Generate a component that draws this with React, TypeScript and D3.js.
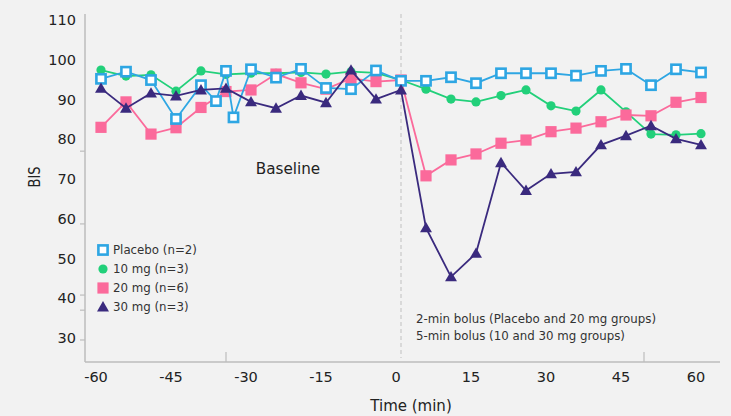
import React from "react";
import * as d3 from "d3";

// Sampling times (min) relative to the start of the bolus
const baselineTimes = [-60, -55, -50, -45, -40, -35, -30, -25, -20, -15, -10, -5, 0];
const postTimes = [5, 10, 15, 20, 25, 30, 35, 40, 45, 50, 55, 60];
const allTimes = [...baselineTimes, ...postTimes];
const placeboTimes = [
  -60, -55, -50, -45, -40, -37, -35, -33.5, -30, -25, -20, -15, -10, -5, 0,
  ...postTimes,
];

// Mean BIS per group
const placeboBIS = [
  95.2, 97.0, 94.9, 85.1, 93.6, 89.6, 97.2, 85.5, 97.6, 95.5, 97.7, 92.9, 92.6, 97.3, 94.7,
  94.7, 95.6, 94.1, 96.6, 96.6, 96.6, 96.0, 97.2, 97.7, 93.6, 97.6, 96.8,
];
const mg10BIS = [
  97.4, 95.9, 96.2, 92.1, 97.2, 96.3, 96.6, 96.6, 96.8, 96.4, 97.0, 96.7, 94.9,
  92.6, 90.1, 89.4, 91.0, 92.4, 88.4, 87.1, 92.4, 86.9, 81.3, 81.1, 81.4,
];
const mg20BIS = [
  83.0, 89.4, 81.3, 82.9, 88.0, 92.0, 92.4, 96.4, 94.2, 92.6, 95.3, 94.5, 94.9,
  70.8, 74.8, 76.3, 79.0, 79.8, 81.9, 82.8, 84.4, 86.1, 85.9, 89.3, 90.5,
];
const mg30BIS = [
  92.8, 87.8, 91.6, 90.9, 92.4, 92.8, 89.4, 87.8, 91.0, 89.2, 97.4, 90.1, 92.4,
  57.7, 45.4, 51.3, 74.1, 67.1, 71.3, 71.8, 78.6, 80.9, 83.4, 80.1, 78.6,
];

const seriesNames = ["Placebo (n=2)", "10 mg (n=3)", "20 mg (n=6)", "30 mg (n=3)"];
const xTicks = [-60, -45, -30, -15, 0, 15, 30, 45, 60];
const yTicks = [30, 40, 50, 60, 70, 80, 90, 100, 110];
const yMinorTicks = [77, 58.7, 40.8, 37, 29.5];
const xMinorTicks = [-35, 48.6];
const annotationLines = [
  "2-min bolus (Placebo and 20 mg groups)",
  "5-min bolus (10 and 30 mg groups)",
];

const W = 731;
const H = 416;
const FONT = "'DejaVu Sans', sans-serif";
const BG = "#f2f2f2";
const AXIS = "#bdbdbd";
const TEXT = "#222";

const COLORS = {
  placebo: "#2ea6e3",
  mg10: "#22d07a",
  mg20: "#fb6a9b",
  mg30: "#3a2a7e",
};

const x = d3.scaleLinear().domain([-60, 60]).range([101, 701]);
const y = d3.scaleLinear().domain([30, 110]).range([338, 20]);

type Pt = { t: number; v: number };
const zip = (ts: number[], vs: number[]): Pt[] => ts.map((t, i) => ({ t, v: vs[i] }));

const lineGen = d3
  .line<Pt>()
  .x((d) => x(d.t))
  .y((d) => y(d.v));

const triPath = d3.symbol().type(d3.symbolTriangle).size(62)() as string;

type Kind = "openSquare" | "circle" | "square" | "triangle";

function Marker({ kind, color, cx, cy }: { kind: Kind; color: string; cx: number; cy: number }) {
  if (kind === "openSquare")
    return (
      <rect x={cx - 4.6} y={cy - 4.6} width={9.2} height={9.2} fill="#fff" stroke={color} strokeWidth={2.6} />
    );
  if (kind === "circle") return <circle cx={cx} cy={cy} r={4.6} fill={color} />;
  if (kind === "square")
    return <rect x={cx - 5.6} y={cy - 5.6} width={11.2} height={11.2} fill={color} />;
  return <path d={triPath} transform={`translate(${cx},${cy + 1})`} fill={color} />;
}

const series: { name: string; color: string; kind: Kind; pts: Pt[] }[] = [
  { name: seriesNames[1], color: COLORS.mg10, kind: "circle", pts: zip(allTimes, mg10BIS) },
  { name: seriesNames[2], color: COLORS.mg20, kind: "square", pts: zip(allTimes, mg20BIS) },
  { name: seriesNames[0], color: COLORS.placebo, kind: "openSquare", pts: zip(placeboTimes, placeboBIS) },
  { name: seriesNames[3], color: COLORS.mg30, kind: "triangle", pts: zip(allTimes, mg30BIS) },
];

const legendOrder: { name: string; color: string; kind: Kind }[] = [
  { name: seriesNames[0], color: COLORS.placebo, kind: "openSquare" },
  { name: seriesNames[1], color: COLORS.mg10, kind: "circle" },
  { name: seriesNames[2], color: COLORS.mg20, kind: "square" },
  { name: seriesNames[3], color: COLORS.mg30, kind: "triangle" },
];

export default function App() {
  const axisLeft = 85;
  const axisBottom = 362;
  return (
    <svg
      width={W}
      height={H}
      style={{ position: "absolute", left: 0, top: 0, background: BG }}
      fontFamily={FONT}
    >
      <rect width={W} height={H} fill={BG} />

      {/* axes */}
      <line x1={axisLeft} x2={axisLeft} y1={14} y2={axisBottom} stroke={AXIS} strokeWidth={1.5} />
      <line x1={axisLeft} x2={720} y1={axisBottom} y2={axisBottom} stroke={AXIS} strokeWidth={1.5} />
      {yMinorTicks.map((v) => (
        <line key={v} x1={axisLeft - 5} x2={axisLeft} y1={y(v)} y2={y(v)} stroke={AXIS} strokeWidth={1.2} />
      ))}
      {xMinorTicks.map((t) => (
        <line key={t} x1={x(t)} x2={x(t)} y1={axisBottom - 10} y2={axisBottom} stroke={AXIS} strokeWidth={1.2} />
      ))}

      {/* y tick labels */}
      {yTicks.map((v) => (
        <text key={v} x={76} y={y(v)} dy="0.36em" textAnchor="end" fontSize={14.5} fill={TEXT}>
          {v}
        </text>
      ))}
      {/* x tick labels */}
      {xTicks.map((t) => (
        <text key={t} x={x(t) - 5} y={382} textAnchor="middle" fontSize={14.5} fill={TEXT}>
          {t}
        </text>
      ))}

      <text x={411} y={411} textAnchor="middle" fontSize={15} fill={TEXT}>
        Time (min)
      </text>
      <text
        transform={`translate(40,177) rotate(-90)`}
        textAnchor="middle"
        fontSize={15}
        textLength={21}
        lengthAdjust="spacingAndGlyphs"
        fill={TEXT}
      >
        BIS
      </text>

      {/* bolus start */}
      <line
        x1={x(0)}
        x2={x(0)}
        y1={14}
        y2={358}
        stroke="#c8c8c8"
        strokeWidth={1.2}
        strokeDasharray="4 3"
      />

      <text x={288} y={174} textAnchor="middle" fontSize={15.2} fill={TEXT}>
        Baseline
      </text>

      {annotationLines.map((s, i) => (
        <text key={s} x={416} y={323 + i * 17} fontSize={11.8} fill="#333">
          {s}
        </text>
      ))}

      {/* series */}
      {series.map((s) => (
        <g key={s.name}>
          <path d={lineGen(s.pts) as string} fill="none" stroke={s.color} strokeWidth={1.8} />
          {s.pts.map((p, i) => (
            <Marker key={i} kind={s.kind} color={s.color} cx={x(p.t)} cy={y(p.v)} />
          ))}
        </g>
      ))}

      {/* legend */}
      {legendOrder.map((s, i) => (
        <g key={s.name} transform={`translate(103,${250 + i * 19})`}>
          <Marker kind={s.kind} color={s.color} cx={0} cy={0} />
          <text x={10} y={0} dy="0.35em" fontSize={11.8} fill="#333">
            {s.name}
          </text>
        </g>
      ))}
    </svg>
  );
}
